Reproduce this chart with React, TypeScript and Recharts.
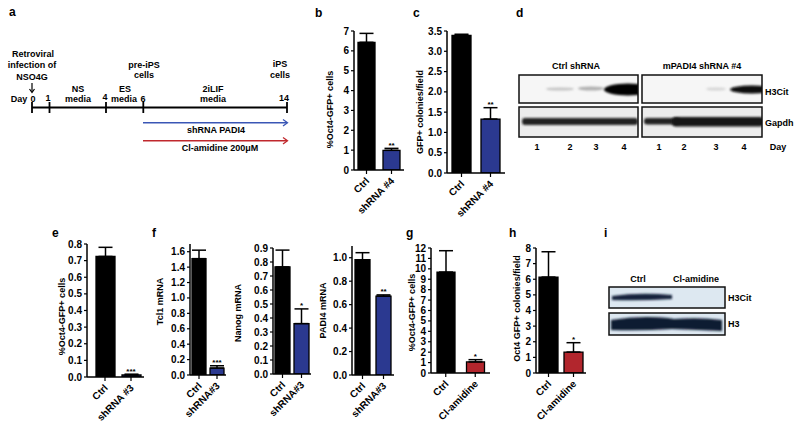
import React from 'react';
import { ComposedChart, Bar, Cell, ErrorBar, Scatter, XAxis, YAxis } from 'recharts';

const FONT = '"Liberation Sans", Arial, Helvetica, sans-serif';
const BLACK = '#000000';
const NAVY = '#2b3990';
const RED = '#b2262d';

// b: Oct4-GFP+ cells, shRNA #4
const B_CATS = ['Ctrl', 'shRNA #4'];
const B_MEAN = [6.43, 0.99];
const B_ERR = [0.45, 0.1];
const B_SIG = ['', '**'];
const B_TICKS = [0, 1, 2, 3, 4, 5, 6, 7];

// c: GFP+ colonies/field
const C_CATS = ['Ctrl', 'shRNA #4'];
const C_MEAN = [3.39, 1.33];
const C_ERR = [0.03, 0.28];
const C_SIG = ['', '**'];
const C_TICKS = [0, 0.5, 1, 1.5, 2, 2.5, 3, 3.5];

// e: Oct4-GFP+ cells, shRNA #3
const E_CATS = ['Ctrl', 'shRNA #3'];
const E_MEAN = [0.725, 0.012];
const E_ERR = [0.055, 0.005];
const E_SIG = ['', '***'];
const E_TICKS = [0, 0.1, 0.2, 0.3, 0.4, 0.5, 0.6, 0.7, 0.8];

// f: mRNA levels
const F_CATS = ['Ctrl', 'shRNA#3'];
const TCL1_MEAN = [1.51, 0.09];
const TCL1_ERR = [0.11, 0.03];
const TCL1_SIG = ['', '***'];
const TCL1_TICKS = [0, 0.2, 0.4, 0.6, 0.8, 1, 1.2, 1.4, 1.6];
const NANOG_MEAN = [0.765, 0.36];
const NANOG_ERR = [0.12, 0.105];
const NANOG_SIG = ['', '*'];
const NANOG_TICKS = [0, 0.1, 0.2, 0.3, 0.4, 0.5, 0.6, 0.7, 0.8, 0.9];
const PADI4_MEAN = [0.983, 0.673];
const PADI4_ERR = [0.06, 0.01];
const PADI4_SIG = ['', '**'];
const PADI4_TICKS = [0, 0.2, 0.4, 0.6, 0.8, 1];

// g, h: Cl-amidine
const CL_CATS = ['Ctrl', 'Cl-amidine'];
const G_MEAN = [9.69, 1.06];
const G_ERR = [2.05, 0.22];
const G_SIG = ['', '*'];
const G_TICKS = [0, 1, 2, 3, 4, 5, 6, 7, 8, 9, 10, 11, 12];
const H_MEAN = [6.14, 1.34];
const H_ERR = [1.62, 0.6];
const H_SIG = ['', '*'];
const H_TICKS = [0, 1, 2, 3, 4, 5, 6, 7, 8];

const D_LANES = ['1', '2', '3', '4'];

const Y_W = 48;
const M_TOP = 14;
const M_RIGHT = 6;
const M_BOTTOM = 62;

const buildRows = (cats: string[], means: number[], errs: number[], sigs: string[]) =>
  cats.map((name, i) => ({ name, mean: means[i], err: [0, errs[i]], top: means[i] + errs[i], sig: sigs[i] }));

const RotTick = (props: any) => {
  const { x, y, payload } = props;
  return (
    <g transform={`translate(${x + 1},${y + 3}) rotate(-45)`}>
      <text x={0} y={0} dy="0.35em" textAnchor="end" fontSize={10} fontWeight="bold" fontFamily={FONT} fill={BLACK}>
        {payload.value}
      </text>
    </g>
  );
};

const Stars = (props: any) => {
  const { cx, cy, payload } = props;
  if (!payload || !payload.sig) return <g />;
  return (
    <text x={cx} y={cy - 0.5} textAnchor="middle" fontSize={8} fontWeight="bold" fontFamily={FONT} fill={BLACK}>
      {payload.sig}
    </text>
  );
};

const YTitle = (props: any) => {
  const { px, py, text } = props;
  return (
    <text transform={`translate(${px},${py}) rotate(-90)`} dy="0.35em" textAnchor="middle" fontSize={9} fontWeight="bold" fontFamily={FONT} fill={BLACK}>
      {text}
    </text>
  );
};

type PanelProps = {
  rows: any[];
  colors: string[];
  ticks: number[];
  max: number;
  decimals: number;
  yLabel: string;
  axisX: number;
  plotRight: number;
  yTop: number;
  yBottom: number;
  barSize: number;
  padLeft: number;
  labelOffset: number;
  labelDy: number;
};

const MiniBar = (p: PanelProps) => {
  const width = p.plotRight - p.axisX + Y_W + M_RIGHT;
  const plotH = p.yBottom - p.yTop;
  const height = plotH + M_TOP + M_BOTTOM;
  return (
    <div style={{ position: 'absolute', left: p.axisX - Y_W, top: p.yTop - M_TOP }}>
      <ComposedChart width={width} height={height} data={p.rows} margin={{ top: M_TOP, right: M_RIGHT, bottom: 0, left: 0 }}>
        <XAxis
          dataKey="name"
          type="category"
          interval={0}
          height={M_BOTTOM}
          padding={{ left: p.padLeft, right: 0 }}
          axisLine={{ stroke: BLACK, strokeWidth: 1.5 }}
          tickLine={{ stroke: BLACK, strokeWidth: 1.2 }}
          tickSize={4}
          tickMargin={2}
          tick={<RotTick />}
        />
        <YAxis
          type="number"
          domain={[0, p.max]}
          ticks={p.ticks}
          allowDataOverflow
          interval={0}
          width={Y_W}
          axisLine={{ stroke: BLACK, strokeWidth: 1.5 }}
          tickLine={{ stroke: BLACK, strokeWidth: 1.2 }}
          tickSize={3}
          tickMargin={2}
          tickFormatter={(v: number) => v.toFixed(p.decimals)}
          tick={{ fontSize: 10, fontWeight: 'bold', fill: BLACK, fontFamily: FONT }}
          label={<YTitle px={Y_W - p.labelOffset} py={M_TOP + plotH / 2 + p.labelDy} text={p.yLabel} />}
        />
        <Bar dataKey="mean" barSize={p.barSize} stroke={BLACK} strokeWidth={1.3} isAnimationActive={false}>
          {p.rows.map((_r, i) => (
            <Cell key={`c-${i}`} fill={p.colors[i]} />
          ))}
          <ErrorBar dataKey="err" direction="y" width={7} stroke={BLACK} strokeWidth={1.5} />
        </Bar>
        <Scatter dataKey="top" shape={<Stars />} isAnimationActive={false} />
      </ComposedChart>
    </div>
  );
};

const T = (props: any) => (
  <text fontFamily={FONT} fontSize={9} fontWeight="bold" fill={BLACK} {...props} />
);

const Letter = ({ x, y, c }: { x: number; y: number; c: string }) => (
  <text x={x} y={y} fontFamily={FONT} fontSize={12} fontWeight="bold" fill={BLACK}>
    {c}
  </text>
);

const Timeline = () => (
  <g>
    <T x={33} y={57} textAnchor="middle">Retroviral</T>
    <T x={32} y={68} textAnchor="middle">infection of</T>
    <T x={32} y={80} textAnchor="middle">NSO4G</T>
    <line x1={32} y1={83} x2={32} y2={92} stroke={BLACK} strokeWidth={1.2} />
    <polyline points="29.5,89 32,92.5 34.5,89" fill="none" stroke={BLACK} strokeWidth={1.2} />
    <T x={19} y={102} textAnchor="middle">Day</T>
    <T x={33} y={102} textAnchor="middle">0</T>
    <T x={48} y={101} textAnchor="middle">1</T>
    <T x={78} y={92} textAnchor="middle">NS</T>
    <T x={78} y={102} textAnchor="middle">media</T>
    <T x={105} y={100} textAnchor="middle">4</T>
    <T x={125} y={92} textAnchor="middle">ES</T>
    <T x={124} y={102} textAnchor="middle">media</T>
    <T x={143} y={102} textAnchor="middle">6</T>
    <T x={144} y={68} textAnchor="middle">pre-iPS</T>
    <T x={144} y={78} textAnchor="middle">cells</T>
    <T x={213} y={92} textAnchor="middle">2iLIF</T>
    <T x={213} y={102} textAnchor="middle">media</T>
    <T x={280} y={67} textAnchor="middle">iPS</T>
    <T x={280} y={78} textAnchor="middle">cells</T>
    <T x={284} y={101} textAnchor="middle">14</T>
    <line x1={32} y1={107.5} x2={287} y2={107.5} stroke={BLACK} strokeWidth={1.8} />
    {[32, 49.5, 106, 143.3, 287].map((x, i) => (
      <line key={`tk-${i}`} x1={x} y1={102} x2={x} y2={113} stroke={BLACK} strokeWidth={1.8} />
    ))}
    <line x1={143} y1={122.7} x2={287} y2={122.7} stroke="#3a56b5" strokeWidth={1.5} />
    <polyline points="283,119.5 287.5,122.7 283,126" fill="none" stroke="#3a56b5" strokeWidth={1.3} />
    <T x={216} y={133} textAnchor="middle">shRNA PADI4</T>
    <line x1={143} y1={140.7} x2={287} y2={140.7} stroke="#c0282d" strokeWidth={1.5} />
    <polyline points="283,137.5 287.5,140.7 283,144" fill="none" stroke="#c0282d" strokeWidth={1.3} />
    <T x={220} y={151} textAnchor="middle">Cl-amidine 200μM</T>
  </g>
);

const BlotD = () => (
  <g>
    <T x={576} y={69} textAnchor="middle">Ctrl shRNA</T>
    <T x={702} y={69} textAnchor="middle">mPADI4 shRNA #4</T>
    <rect x={519} y={75} width={119} height={28} fill="#f6f6f6" />
    <rect x={642} y={75} width={120} height={28} fill="#f6f6f6" />
    <rect x={519} y={107} width={119} height={30} fill="#ececec" />
    <rect x={642} y={107} width={120} height={30} fill="#ececec" />
    <g clipPath="url(#clipTL)">
      <ellipse cx={560} cy={89} rx={14} ry={1.6} fill="#888" opacity={0.45} filter="url(#blur1)" />
      <ellipse cx={591} cy={88.5} rx={13} ry={2} fill="#777" opacity={0.55} filter="url(#blur1)" />
      <ellipse cx={628} cy={89.5} rx={24} ry={6} fill="#050505" filter="url(#blur1)" />
    </g>
    <g clipPath="url(#clipTR)">
      <ellipse cx={716} cy={89} rx={10} ry={1.6} fill="#999" opacity={0.35} filter="url(#blur1)" />
      <ellipse cx={752} cy={89.5} rx={22} ry={4} fill="#0a0a0a" filter="url(#blur1)" />
    </g>
    <g clipPath="url(#clipBL)">
      <rect x={522} y={118} width={116} height={7} rx={3} fill="#222" filter="url(#blur1)" />
    </g>
    <g clipPath="url(#clipBR)">
      <rect x={644} y={118} width={36} height={6.5} rx={3} fill="#222" filter="url(#blur1)" />
      <rect x={672} y={117} width={92} height={9.5} rx={4} fill="#161616" filter="url(#blur1)" />
    </g>
    <rect x={519} y={75} width={119} height={28} fill="none" stroke="#111" strokeWidth={1.5} />
    <rect x={642} y={75} width={120} height={28} fill="none" stroke="#111" strokeWidth={1.5} />
    <rect x={519} y={107} width={119} height={30} fill="none" stroke="#111" strokeWidth={1.5} />
    <rect x={642} y={107} width={120} height={30} fill="none" stroke="#111" strokeWidth={1.5} />
    <T x={765} y={95}>H3Cit</T>
    <T x={765} y={126}>Gapdh</T>
    {D_LANES.map((l, i) => (
      <T key={`ll-${i}`} x={[537, 570, 596, 624][i]} y={150} textAnchor="middle">{l}</T>
    ))}
    {D_LANES.map((l, i) => (
      <T key={`lr-${i}`} x={[659, 684, 716, 744][i]} y={150} textAnchor="middle">{l}</T>
    ))}
    <T x={778} y={150} textAnchor="middle">Day</T>
  </g>
);

const BlotI = () => (
  <g>
    <T x={638} y={282} textAnchor="middle">Ctrl</T>
    <T x={696} y={282} textAnchor="middle">Cl-amidine</T>
    <rect x={609} y={287} width={116} height={21} fill="#dde8f1" />
    <rect x={609} y={313} width={116} height={22} fill="#dde8f1" />
    <g clipPath="url(#clipI1)">
      <path d="M612,296 Q640,292 672,295 L672,299 Q640,301 612,300 Z" fill="#17223c" filter="url(#blur1)" />
    </g>
    <g clipPath="url(#clipI2)">
      <path d="M611,320 Q640,315 668,318 L674,319 Q700,317 722,320 L722,331 Q700,330 672,329 Q640,331 611,330 Z" fill="#101a30" filter="url(#blur1)" />
    </g>
    <rect x={609} y={287} width={116} height={21} fill="none" stroke="#111" strokeWidth={1.5} />
    <rect x={609} y={313} width={116} height={22} fill="none" stroke="#111" strokeWidth={1.5} />
    <T x={728} y={301}>H3Cit</T>
    <T x={728} y={327}>H3</T>
  </g>
);

export default function App() {
  return (
    <div style={{ position: 'relative', width: 800, height: 432, background: '#fff', overflow: 'hidden', fontFamily: FONT }}>
      <style>{'body{margin:0}'}</style>
      <svg width={800} height={432} style={{ position: 'absolute', left: 0, top: 0 }}>
        <defs>
          <filter id="blur1" x="-20%" y="-100%" width="140%" height="300%">
            <feGaussianBlur stdDeviation="1" />
          </filter>
          <clipPath id="clipTL"><rect x={519} y={75} width={119} height={28} /></clipPath>
          <clipPath id="clipTR"><rect x={642} y={75} width={120} height={28} /></clipPath>
          <clipPath id="clipBL"><rect x={519} y={107} width={119} height={30} /></clipPath>
          <clipPath id="clipBR"><rect x={642} y={107} width={120} height={30} /></clipPath>
          <clipPath id="clipI1"><rect x={609} y={287} width={116} height={21} /></clipPath>
          <clipPath id="clipI2"><rect x={609} y={313} width={116} height={22} /></clipPath>
        </defs>
        <Letter x={9} y={16} c="a" />
        <Letter x={315} y={17} c="b" />
        <Letter x={413} y={17} c="c" />
        <Letter x={516} y={17} c="d" />
        <Letter x={52} y={237} c="e" />
        <Letter x={152} y={237} c="f" />
        <Letter x={406} y={237} c="g" />
        <Letter x={509} y={237} c="h" />
        <Letter x={604} y={237} c="i" />
        <Timeline />
        <BlotD />
        <BlotI />
      </svg>
      <MiniBar rows={buildRows(B_CATS, B_MEAN, B_ERR, B_SIG)} colors={[BLACK, NAVY]} ticks={B_TICKS} max={7} decimals={0}
        yLabel="%Oct4-GFP+ cells" axisX={354} plotRight={404} yTop={31} yBottom={170} barSize={17} padLeft={0} labelOffset={24} labelDy={9} />
      <MiniBar rows={buildRows(C_CATS, C_MEAN, C_ERR, C_SIG)} colors={[BLACK, NAVY]} ticks={C_TICKS} max={3.5} decimals={1}
        yLabel="GFP+ colonies/field" axisX={447} plotRight={505} yTop={31} yBottom={173} barSize={19} padLeft={0} labelOffset={27} labelDy={10} />
      <MiniBar rows={buildRows(E_CATS, E_MEAN, E_ERR, E_SIG)} colors={[BLACK, NAVY]} ticks={E_TICKS} max={0.8} decimals={1}
        yLabel="%Oct4-GFP+ cells" axisX={87} plotRight={144} yTop={244} yBottom={377} barSize={19} padLeft={5} labelOffset={25} labelDy={6} />
      <MiniBar rows={buildRows(F_CATS, TCL1_MEAN, TCL1_ERR, TCL1_SIG)} colors={[BLACK, NAVY]} ticks={TCL1_TICKS} max={1.7} decimals={1}
        yLabel="Tcl1 mRNA" axisX={190} plotRight={226} yTop={244} yBottom={375} barSize={14} padLeft={0} labelOffset={30} labelDy={-8} />
      <MiniBar rows={buildRows(F_CATS, NANOG_MEAN, NANOG_ERR, NANOG_SIG)} colors={[BLACK, NAVY]} ticks={NANOG_TICKS} max={0.9} decimals={1}
        yLabel="Nanog mRNA" axisX={273} plotRight={311} yTop={248} yBottom={374} barSize={15} padLeft={0} labelOffset={35} labelDy={2} />
      <MiniBar rows={buildRows(F_CATS, PADI4_MEAN, PADI4_ERR, PADI4_SIG)} colors={[BLACK, NAVY]} ticks={PADI4_TICKS} max={1.1} decimals={1}
        yLabel="PADI4 mRNA" axisX={352} plotRight={394} yTop={246} yBottom={375} barSize={15} padLeft={0} labelOffset={29} labelDy={0} />
      <MiniBar rows={buildRows(CL_CATS, G_MEAN, G_ERR, G_SIG)} colors={[BLACK, RED]} ticks={G_TICKS} max={12} decimals={0}
        yLabel="%Oct4-GFP+ cells" axisX={431} plotRight={490} yTop={248} yBottom={373} barSize={18} padLeft={0} labelOffset={19} labelDy={2} />
      <MiniBar rows={buildRows(CL_CATS, H_MEAN, H_ERR, H_SIG)} colors={[BLACK, RED]} ticks={H_TICKS} max={8} decimals={0}
        yLabel="Oct4 GFP+ colonies/field" axisX={536} plotRight={586} yTop={248} yBottom={373} barSize={19} padLeft={0} labelOffset={19} labelDy={-2} />
    </div>
  );
}
